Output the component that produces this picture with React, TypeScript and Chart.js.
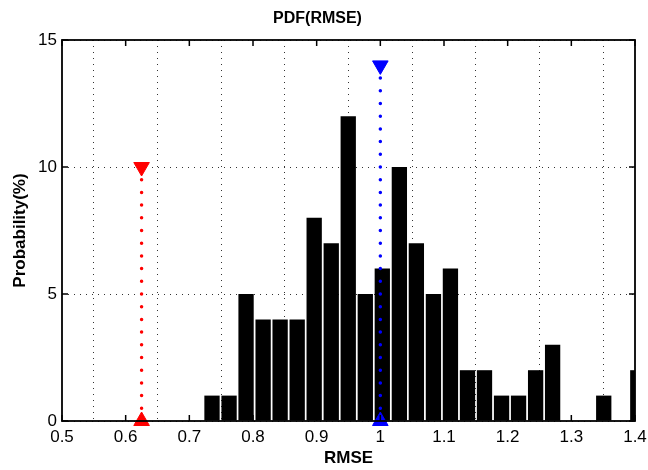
import React, { useEffect, useRef } from "react";
import { Chart, registerables } from "chart.js";

Chart.register(...registerables);

// Histogram bin centres (RMSE) and probabilities (%)
const binCenters = [
  0.7356, 0.7624, 0.7891, 0.8159, 0.8426, 0.8694, 0.8961, 0.9229, 0.9496,
  0.9764, 1.0031, 1.0299, 1.0566, 1.0834, 1.1101, 1.1369, 1.1636, 1.1904,
  1.2171, 1.2439, 1.2706, 1.2974, 1.3241, 1.3509, 1.3776, 1.4044,
];
const probabilities = [
  1, 1, 5, 4, 4, 4, 8, 7, 12, 5, 6, 10, 7, 5, 6, 2, 2, 1, 1, 2, 3, 0, 0, 1, 0, 2,
];

// Marker lines
const redLineX = [0.625, 0.625];
const redLineY = [0, 10];
const blueLineX = [1.0, 1.0];
const blueLineY = [0, 14];

const xTickLabels = ["0.5", "0.6", "0.7", "0.8", "0.9", "1", "1.1", "1.2", "1.3", "1.4"];
const yTickLabels = ["0", "5", "10", "15"];

const FONT = "'Liberation Sans', Arial, Helvetica, sans-serif";

const framePlugin = {
  id: "frame",
  afterDraw(chart: any) {
    const { ctx, chartArea: a, scales } = chart;
    const L = 6;
    ctx.save();
    ctx.strokeStyle = "#000";
    ctx.lineWidth = 1.5;
    ctx.beginPath();
    scales.x.ticks.forEach((t: any) => {
      const px = scales.x.getPixelForValue(t.value);
      ctx.moveTo(px, a.bottom);
      ctx.lineTo(px, a.bottom - L);
      ctx.moveTo(px, a.top);
      ctx.lineTo(px, a.top + L);
    });
    scales.y.ticks.forEach((t: any) => {
      const py = scales.y.getPixelForValue(t.value);
      ctx.moveTo(a.left, py);
      ctx.lineTo(a.left + L, py);
      ctx.moveTo(a.right, py);
      ctx.lineTo(a.right - L, py);
    });
    ctx.stroke();
    ctx.lineWidth = 1.8;
    ctx.strokeRect(a.left, a.top, a.right - a.left, a.bottom - a.top);
    ctx.restore();
  },
};

export default function App() {
  const ref = useRef<HTMLCanvasElement | null>(null);

  useEffect(() => {
    document.body.style.margin = "0";
    const canvas = ref.current;
    if (!canvas) return;
    const lineDataset = (xs: number[], ys: number[], color: string) =>
      ({
        type: "line",
        data: xs.map((x, i) => ({ x, y: ys[i] })),
        borderColor: color,
        backgroundColor: color,
        borderWidth: 3.5,
        borderDash: [0, 12.7],
        borderCapStyle: "round",
        pointStyle: "triangle",
        pointRadius: 9,
        pointRotation: [0, 180],
        pointBorderWidth: 1,
        pointBackgroundColor: color,
        pointBorderColor: color,
        clip: false,
        order: 0,
      } as any);
    const chart = new Chart(canvas, {
      type: "bar",
      data: {
        datasets: [
          lineDataset(redLineX, redLineY, "#ff0000"),
          lineDataset(blueLineX, blueLineY, "#0000ff"),
          {
            type: "bar",
            label: "PDF",
            data: binCenters.map((x, i) => ({ x, y: probabilities[i] })),
            backgroundColor: "#000000",
            borderWidth: 0,
            barPercentage: 0.9,
            categoryPercentage: 1,
            order: 1,
          } as any,
        ],
      },
      options: {
        responsive: false,
        animation: false,
        layout: { padding: { left: 0, right: 13, top: 0, bottom: 0 } },
        plugins: {
          legend: { display: false },
          tooltip: { enabled: false },
          title: {
            display: true,
            text: "PDF(RMSE)",
            color: "#000",
            font: { family: FONT, size: 16, weight: "bold" },
            padding: { top: 9, bottom: 11.8 },
          },
        },
        scales: {
          x: {
            type: "linear",
            min: 0.5,
            max: 1.4,
            offset: false,
            afterFit(scale: any) {
              scale.height = 49;
              scale.paddingRight = 0;
              scale.paddingLeft = 0;
            },
            ticks: {
              stepSize: 0.1,
              autoSkip: false,
              maxRotation: 0,
              color: "#000",
              padding: 6,
              font: { family: FONT, size: 17 },
              callback: (_v: any, i: number) => xTickLabels[i],
            },
            grid: {
              color: "#333",
              lineWidth: 1,
              drawTicks: false,
            },
            border: { display: false, dash: [1, 5] },
            title: {
              display: true,
              text: "RMSE",
              color: "#000",
              font: { family: FONT, size: 17, weight: "bold" },
              padding: { top: 0, bottom: 1.5 },
            },
          },
          y: {
            type: "linear",
            min: 0,
            max: 15,
            afterFit(scale: any) {
              scale.width = 62;
              scale.paddingTop = 0;
              scale.paddingBottom = 0;
            },
            ticks: {
              stepSize: 5,
              color: "#000",
              padding: 5,
              font: { family: FONT, size: 17 },
              callback: (_v: any, i: number) => yTickLabels[i],
            },
            grid: {
              color: "#333",
              lineWidth: 1,
              drawTicks: false,
            },
            border: { display: false, dash: [1, 5] },
            title: {
              display: true,
              text: "Probability(%)",
              color: "#000",
              font: { family: FONT, size: 17, weight: "bold" },
              padding: { top: 10, bottom: 0 },
            },
          },
        },
      } as any,
      plugins: [framePlugin],
    });
    return () => chart.destroy();
  }, []);

  return (
    <div style={{ position: "absolute", left: 0, top: 0, width: 648, height: 470, background: "#fff" }}>
      <canvas ref={ref} width={648} height={470} />
    </div>
  );
}
